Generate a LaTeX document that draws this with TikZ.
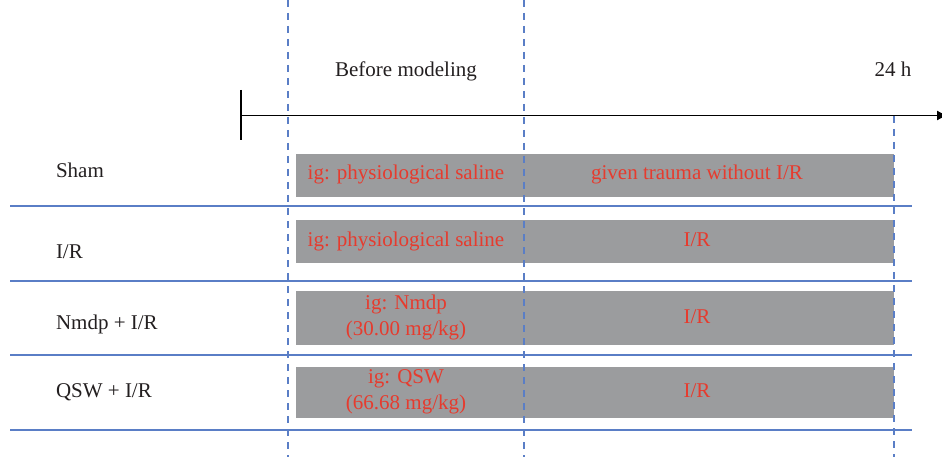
\documentclass[tikz,border=0pt]{standalone}
\usepackage{fontspec}
\setmainfont{Liberation Serif}
\usetikzlibrary{arrows.meta}
\definecolor{boxgray}{HTML}{9B9C9E}
\definecolor{txtred}{HTML}{E63B2E}
\definecolor{lineblue}{HTML}{5A7EC6}
\definecolor{txtblack}{HTML}{231F20}
\begin{document}
\begin{tikzpicture}[x=1pt,y=-1pt,
  every node/.style={inner sep=0pt, outer sep=0pt},
  lbl/.style={font=\fontsize{21}{25.5}\selectfont, text=txtblack, anchor=base},
  redtxt/.style={font=\fontsize{21}{25.5}\selectfont, text=txtred, align=center, anchor=base},
  graybar/.style={fill=boxgray, draw=none},
  rowline/.style={draw=lineblue, line width=1.5pt},
  vdash/.style={draw=lineblue, line width=1.3pt, dash pattern=on 7pt off 6pt},
  axisline/.style={draw=black, line width=1.3pt}]
\useasboundingbox (0,0) rectangle (942,457);

% gray bars
\node[graybar, minimum width=598pt, minimum height=43pt] (b1) at (595,175.5) {};
\node[graybar, minimum width=598pt, minimum height=43pt] (b2) at (595,241.5) {};
\node[graybar, minimum width=598pt, minimum height=54pt] (b3) at (595,318) {};
\node[graybar, minimum width=598pt, minimum height=51pt] (b4) at (595,392.5) {};

% vertical dashed lines
\coordinate (v1t) at (288,0);   \coordinate (v1b) at (288,457);
\coordinate (v2t) at (524,0);   \coordinate (v2b) at (524,457);
\coordinate (v3t) at (894,116); \coordinate (v3b) at (894,457);
\draw[vdash] (v1t) -- (v1b);
\draw[vdash] (v2t) -- (v2b);
\draw[vdash] (v3t) -- (v3b);

% horizontal row lines
\foreach \yy/\nm in {206/r1, 281/r2, 355/r3, 430/r4}{
  \coordinate (\nm a) at (10,\yy);
  \coordinate (\nm b) at (912,\yy);
  \draw[rowline] (\nm a) -- (\nm b);
}

% axis
\coordinate (axs) at (241,115.5);
\coordinate (axe) at (948,115.5);
\coordinate (tkt) at (241,90);
\coordinate (tkb) at (241,140);
\draw[axisline, -{Latex[length=11pt,width=10pt]}] (axs) -- (axe);
\draw[axisline] (tkt) -- (tkb);

% top labels
\node[lbl] (before) at (406,77) {Before modeling};
\node[lbl] (h24) at (893,77) {24 h};

% row labels
\node[lbl, anchor=base west] (sham) at (56,178) {Sham};
\node[lbl, anchor=base west] (ir) at (56,258) {I/R};
\node[lbl, anchor=base west] (nmdp) at (56,329) {Nmdp + I/R};
\node[lbl, anchor=base west] (qsw) at (56,397) {QSW + I/R};

% bar texts
\node[redtxt] (t11) at (406,180) {ig: physiological saline};
\node[redtxt] (t12) at (697,180) {given trauma without I/R};
\node[redtxt] (t21) at (406,246) {ig: physiological saline};
\node[redtxt] (t22) at (697,246) {I/R};
\node[redtxt] (t31) at (406,335) {ig: Nmdp\\(30.00 mg/kg)};
\node[redtxt] (t32) at (697,323) {I/R};
\node[redtxt] (t41) at (406,409) {ig: QSW\\(66.68 mg/kg)};
\node[redtxt] (t42) at (697,397) {I/R};
\end{tikzpicture}
\end{document}
